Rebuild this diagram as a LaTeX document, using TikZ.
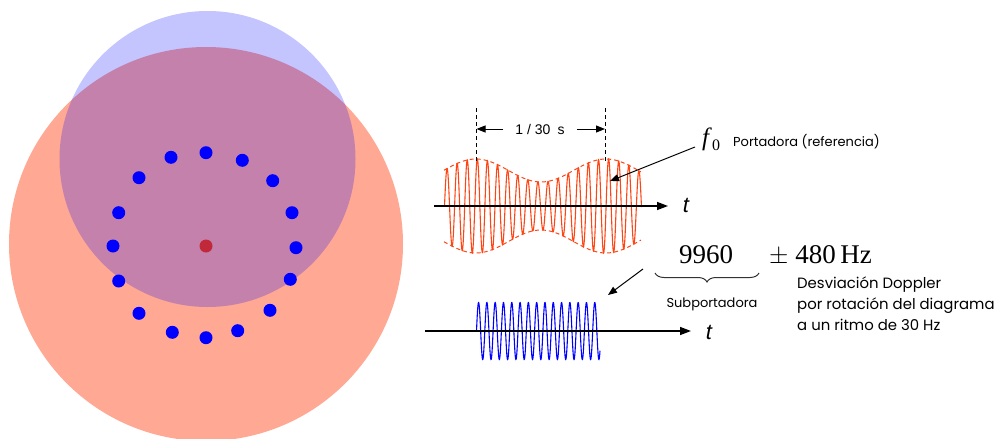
\documentclass[tikz,border=0pt]{standalone}
\usepackage{fontspec}
\setmainfont{Liberation Serif}
\newfontfamily\lato{Poppins}
\newfontfamily\arial{Liberation Sans}
\usetikzlibrary{arrows.meta,decorations.pathreplacing}
\definecolor{salmon}{RGB}{255,168,147}
\definecolor{wavered}{RGB}{255,69,20}
\definecolor{dotred}{RGB}{193,40,58}
\begin{document}
\begin{tikzpicture}[x=1pt,y=-1pt,
  axis/.style={line width=1.4pt,-{Triangle[length=11pt,width=8pt]}},
  pointer/.style={line width=1pt,-{Triangle[length=9pt,width=7pt]}},
  bluedot/.style={circle,fill=blue,inner sep=0pt,minimum size=13pt},
  guide/.style={line width=1pt,dash pattern=on 4pt off 3pt},
  envelope/.style={wavered,line width=1pt,dash pattern=on 4pt off 3pt},
  lab/.style={inner sep=0pt,font=\lato\fontsize{13}{16}\selectfont}]
\path[use as bounding box] (0,0) rectangle (1007,439);
% circles
\fill[salmon] (206,244) circle[radius=197];
\fill[blue,opacity=0.23] (207.5,159) circle[radius=148];
% dots
\foreach \px/\py [count=\i] in {206/152.7,242.3/160.3,272.7/180.7,292/212.7,296/247.7,290.3/279.3,270/310.3,237.7/330.7,206/337.7,172.3/332.3,139/313.3,118.7/281,113/246,118.7/212.7,139/177.7,171/157.3}
  \node[bluedot] (d\i) at (\px,\py) {};
\node[circle,fill=dotred,inner sep=0pt,minimum size=13pt] (ctr) at (206,246) {};
% red carrier
\coordinate (ra0) at (434,206);
\coordinate (ra1) at (668,206);
\draw[wavered,line width=1.1pt] plot[domain=444.5:641.5,samples=900,smooth] (\x,{206-(35.5+11.5*cos((\x-476)*2.76923))*sin((\x-444.5)*35.6436)});
\draw[envelope] plot[domain=444:641,samples=80,smooth] (\x,{206-(35.5+11.5*cos((\x-476)*2.76923))});
\draw[envelope] plot[domain=444:641,samples=80,smooth] (\x,{206+(35.5+11.5*cos((\x-476)*2.76923))});
\draw[axis] (ra0) -- (ra1);
\node[inner sep=0pt,font=\arial\itshape\fontsize{22}{24}\selectfont,anchor=base] (t1) at (686,212) {t};
% period marks
\coordinate (g1a) at (476,108); \coordinate (g1b) at (476,162);
\coordinate (g2a) at (605,108); \coordinate (g2b) at (605,162);
\draw[guide] (g1a) -- (g1b);
\draw[guide] (g2a) -- (g2b);
\node[inner sep=0pt,font=\arial\fontsize{14}{16}\selectfont] (per) at (540,129) {1 / 30\enspace s};
\coordinate (pl) at (476.5,129); \coordinate (pr) at (605,129);
\draw[pointer] (503,129) -- (pl);
\draw[pointer] (577,129) -- (pr);
% f0 label
\node[inner sep=0pt,anchor=base west] (f0) at (702,145) {{\fontsize{25}{28}\selectfont\textit{f}}\raisebox{-5pt}{\fontsize{16}{18}\selectfont 0}};
\node[lab,anchor=base west] (port) at (733,146) {Portadora (referencia)};
\coordinate (fw) at (610,181);
\draw[pointer] (695,147) -- (fw);
% numbers
\node[inner sep=0pt,anchor=base west,font=\fontsize{27}{30}\selectfont] (n9960) at (679,263) {9960};
\node[inner sep=0pt,anchor=base west,font=\fontsize{27}{30}\selectfont] (n480) at (769,263) {$\pm$\ 480\,Hz};
\draw[decorate,decoration={brace,mirror,amplitude=9pt},line width=1pt,black!80] (655,273) -- (759,273);
\node[inner sep=0pt,anchor=base,font=\lato\fontsize{13}{16}\selectfont] (sub) at (712,307) {Subportadora};
\coordinate (sw) at (608,295);
\draw[pointer] (643,269) -- (sw);
\node[lab,anchor=base west,font=\lato\fontsize{14.9}{20}\selectfont] (dv1) at (797,288) {Desviación Doppler};
\node[lab,anchor=base west,font=\lato\fontsize{14.9}{20}\selectfont] (dv2) at (797,309) {por rotación del diagrama};
\node[lab,anchor=base west,font=\lato\fontsize{14.9}{20}\selectfont] (dv3) at (797,330) {a un ritmo de 30 Hz};
% blue subcarrier
\coordinate (ba0) at (425,331);
\coordinate (ba1) at (691,331);
\draw[blue,line width=1.1pt] plot[domain=476.5:600,samples=700,smooth] (\x,{331-28.5*sin((\x-476.5)*43.3735)});
\draw[axis] (ba0) -- (ba1);
\node[inner sep=0pt,font=\arial\itshape\fontsize{22}{24}\selectfont,anchor=base] (t2) at (709,339) {t};
\end{tikzpicture}
\end{document}
